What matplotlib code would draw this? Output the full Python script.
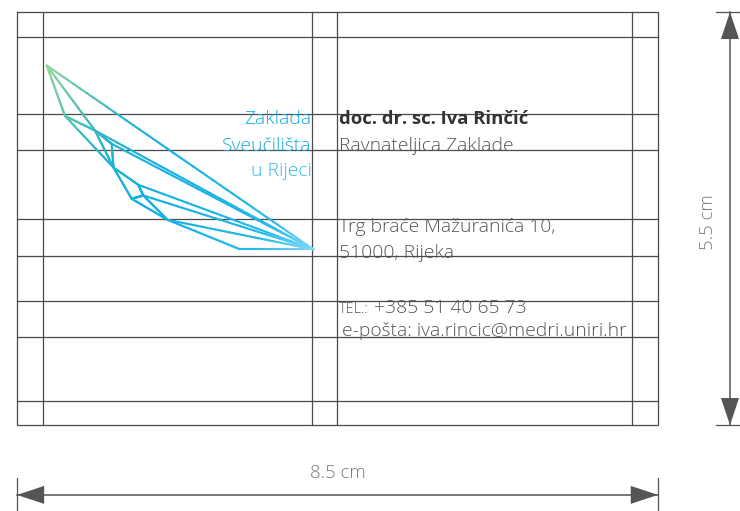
import matplotlib
matplotlib.use("Agg")
import matplotlib.pyplot as plt
import numpy as np
from matplotlib.collections import LineCollection
from matplotlib.colors import LinearSegmentedColormap

# ---------------- data (all in cm, card coordinates, y grows downward) ----------------
card_w = 8.5
card_h = 5.5
guide_x = [0.345, 3.91, 4.24, 8.15]
guide_y = [0.333, 1.358, 1.838, 2.756, 3.249, 3.844, 4.33, 5.176]

logo_names = ["A", "B", "J", "C", "D", "K", "E", "G", "H", "I", "T"]
logo_x = [0.394, 0.637, 1.034, 1.256, 1.280, 1.609, 1.521, 1.675, 1.996, 2.958, 3.930]
logo_y = [0.712, 1.385, 1.578, 1.755, 2.071, 2.301, 2.487, 2.443, 2.767, 3.160, 3.160]
logo_edges = [("A", "T"), ("A", "B"), ("A", "J"), ("B", "J"), ("J", "T"), ("J", "C"),
              ("C", "T"), ("C", "D"), ("J", "D"), ("B", "D"), ("D", "E"), ("D", "K"),
              ("K", "T"), ("K", "G"), ("E", "G"), ("G", "T"), ("E", "H"), ("G", "H"),
              ("H", "I"), ("H", "T"), ("I", "T")]

logo_text = ["Zaklada", "Sveučilišta", "u Rijeci"]
logo_text_colors = ["#10ade6", "#18a8dc", "#30bbec"]
name_text = "doc. dr. sc. Iva Rinčić"
title_text = "Ravnateljica Zaklade"
address_lines = ["Trg braće Mažuranića 10,", "51000, Rijeka"]
tel_label = "TEL.:"
tel_number = " +385 51 40 65 73"
email_text = "e-pošta: iva.rincic@medri.uniri.hr"
width_label = "8.5 cm"
height_label = "5.5 cm"

# ---------------- figure ----------------
fig = plt.figure(figsize=(7.40, 5.11), dpi=100)
ax = fig.add_axes([0, 0, 1, 1])
px_per_cm_x = 75.4
px_per_cm_y = 75.1
x0_px, y0_px = 17.0, 12.0
ax.set_xlim(-x0_px / px_per_cm_x, (740 - x0_px) / px_per_cm_x)
ax.set_ylim((511 - y0_px) / px_per_cm_y, -y0_px / px_per_cm_y)
ax.axis("off")

FONT = ["Open Sans", "DejaVu Sans"]
FS = 13.9      # light text
FSB = 13.3     # bold name
FW = "light"
grid_col = "#4a4a4a"
grid_lw = 0.9

# card border
ax.plot([0, card_w, card_w, 0, 0], [0, 0, card_h, card_h, 0], color=grid_col, lw=grid_lw,
        solid_joinstyle="miter")
for gx in guide_x:
    ax.plot([gx, gx], [0, card_h], color=grid_col, lw=grid_lw)
for gy in guide_y:
    ax.plot([0, card_w], [gy, gy], color=grid_col, lw=grid_lw)

# ---------------- logo ----------------
pts = {n: np.array([x, y]) for n, x, y in zip(logo_names, logo_x, logo_y)}
cmap = LinearSegmentedColormap.from_list(
    "logo", [(0.0, "#93d59a"), (0.15, "#55c2b0"), (0.3, "#22b4d2"),
             (0.5, "#14b0e4"), (0.85, "#25b8ea"), (1.0, "#82d8f7")])
a, t = pts["A"], pts["T"]
d = t - a
segs, vals = [], []
for p, q in logo_edges:
    P, Q = pts[p], pts[q]
    n = 40
    ss = np.linspace(0, 1, n + 1)
    line = P[None, :] + ss[:, None] * (Q - P)[None, :]
    for i in range(n):
        segs.append(line[i:i + 2])
        mid = (line[i] + line[i + 1]) / 2
        vals.append(np.clip(np.dot(mid - a, d) / np.dot(d, d), 0, 1))
lc = LineCollection(segs, colors=cmap(np.array(vals)), linewidths=1.5, capstyle="round")
ax.add_collection(lc)

# logo text
logo_ys = [1.43, 1.78, 2.12]
for txt, col, yy in zip(logo_text, logo_text_colors, logo_ys):
    ax.text(3.905, yy, txt, color=col, fontsize=FS, ha="right", va="center",
            family=FONT, fontweight=FW)

# ---------------- contact text ----------------
tx = 4.27
tcol = "#555555"
ax.text(tx, 1.43, name_text, fontsize=FSB, fontweight="bold", color="#333333",
        ha="left", va="center", family=FONT)
ax.text(tx, 1.78, title_text, fontsize=FS, color=tcol, ha="left", va="center",
        family=FONT, fontweight=FW)
ax.text(tx, 2.86, address_lines[0], fontsize=FS, color=tcol, ha="left", va="center",
        family=FONT, fontweight=FW)
ax.text(tx, 3.21, address_lines[1], fontsize=FS, color=tcol, ha="left", va="center",
        family=FONT, fontweight=FW)
tl = ax.text(tx, 4.01, tel_label, fontsize=FS * 0.74, color=tcol, ha="left", va="baseline",
             family=FONT, fontweight=FW)
ax.annotate(tel_number, xy=(1, 0), xycoords=tl, fontsize=FS, color=tcol, ha="left",
            va="bottom", family=FONT, fontweight=FW)
ax.text(4.31, 4.25, email_text, fontsize=FS, color=tcol, ha="left", va="center",
        family=FONT, fontweight=FW)

# ---------------- dimension arrows ----------------
dim_col = "#555555"
lab_col = "#7a7a7a"
# horizontal
hy = 6.43
ax.plot([0, card_w], [hy, hy], color=dim_col, lw=1.1)
for xx in [0, card_w]:
    ax.plot([xx, xx], [6.2, 6.65], color=dim_col, lw=0.9)
hl, hw = 0.36, 0.12
ax.fill([0, hl, hl], [hy, hy - hw, hy + hw], color=dim_col, lw=0)
ax.fill([card_w, card_w - hl, card_w - hl], [hy, hy - hw, hy + hw], color=dim_col, lw=0)
ax.text(card_w / 2, 6.14, width_label, fontsize=13.3, color=lab_col, ha="center",
        va="center", family=FONT, fontweight=FW)
# vertical
vx = 9.456
ax.plot([vx, vx], [0, card_h], color=dim_col, lw=1.1)
for yy in [0, card_h]:
    ax.plot([9.27, 9.6], [yy, yy], color=dim_col, lw=0.9)
vl, vw = 0.36, 0.12
ax.fill([vx, vx - vw, vx + vw], [0, vl, vl], color=dim_col, lw=0)
ax.fill([vx, vx - vw, vx + vw], [card_h, card_h - vl, card_h - vl], color=dim_col, lw=0)
ax.text(9.16, card_h / 2 + 0.05, height_label, fontsize=13.3, color=lab_col, ha="center",
        va="center", rotation=90, family=FONT, fontweight=FW)

fig.savefig("out.png", dpi=100)
